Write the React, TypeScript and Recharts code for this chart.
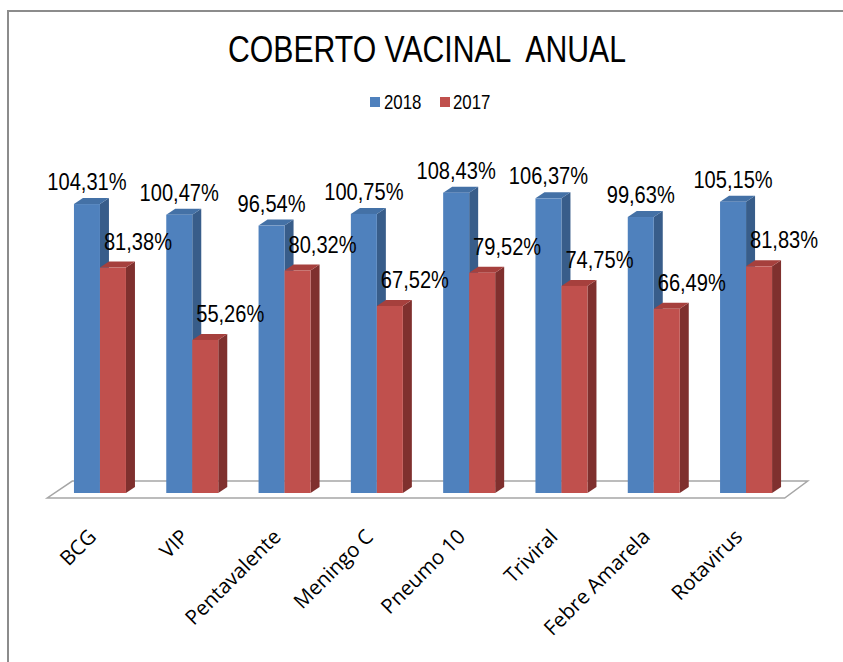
import { Bar, BarChart, LabelList, ReferenceArea, XAxis, YAxis } from 'recharts'

const categories = ['BCG', 'VIP', 'Pentavalente', 'Meningo C', 'Pneumo 10', 'Triviral', 'Febre Amarela', 'Rotavirus']
const cov2018 = [104.31, 100.47, 96.54, 100.75, 108.43, 106.37, 99.63, 105.15]
const cov2017 = [81.38, 55.26, 80.32, 67.52, 79.52, 74.75, 66.49, 81.83]
const seriesNames = ['2018', '2017']

const data = categories.map((name, i) => ({ name, y2018: cov2018[i], y2017: cov2017[i] }))

// no narrow font installed, so Liberation Sans gets squeezed horizontally
const FONT = "'Liberation Sans', Arial, sans-serif"
const SQUEEZE = 0.82
const DX = 9
const DY = 6

const fmt = (v: number) => `${v.toFixed(2).replace('.', ',')}%`

function bar3d(front: string, side: string, top: string) {
  return (props: any) => {
    const { x, y, width, height } = props
    if (!height) return <g />
    const r = x + width
    const b = y + height
    return (
      <g>
        <polygon points={`${r},${y} ${r + DX},${y - DY} ${r + DX},${b - DY} ${r},${b}`} fill={side} />
        <polygon points={`${x},${y} ${x + DX},${y - DY} ${r + DX},${y - DY} ${r},${y}`} fill={top} />
        <rect x={x} y={y} width={width} height={height} fill={front} />
      </g>
    )
  }
}

function floorShape(props: any) {
  const { x, y, width, height } = props
  const b = y + height
  const r = x + width
  return (
    <polygon
      points={`${x - 7},${b} ${r - 8},${b} ${r + 15},${y} ${x + 18},${y}`}
      fill="#ffffff"
      stroke="#a6a6a6"
      strokeWidth={1.5}
    />
  )
}

function CategoryTick(props: any) {
  const { x, y, payload } = props
  const tx = x - 3
  const ty = y + 45
  return (
    <text
      x={tx}
      y={ty}
      transform={`rotate(-45 ${tx} ${ty})`}
      textAnchor="end"
      fontFamily="'Open Sans', sans-serif"
      fontSize={20.5}
      fill="#000"
    >
      {payload.value}
    </text>
  )
}

function ValueText({ cx, base, value }: { cx: number; base: number; value: number }) {
  return (
    <text
      transform={`translate(${cx} ${base}) scale(${SQUEEZE} 1)`}
      x={0}
      y={0}
      textAnchor="middle"
      fontFamily={FONT}
      fontSize={24.5}
      fill="#000"
    >
      {fmt(value)}
    </text>
  )
}

const label2018 = (p: any) => <ValueText cx={p.x + p.width / 2} base={p.y - 14} value={Number(p.value)} />
const label2017 = (p: any) => <ValueText cx={p.x + p.width / 2 + 25} base={p.y - 18} value={Number(p.value)} />

const squeezed = {
  position: 'absolute' as const,
  whiteSpace: 'pre' as const,
  fontFamily: FONT,
  color: '#000',
  transformOrigin: 'left top',
  transform: `scaleX(${SQUEEZE})`,
}

export default function App() {
  return (
    <div style={{ position: 'absolute', left: 0, top: 0, width: 843, height: 662, overflow: 'hidden', background: '#fff' }}>
      <div
        style={{
          position: 'absolute',
          left: 7,
          top: 10,
          width: 900,
          height: 700,
          border: '2px solid #8c8c8c',
        }}
      />
      <div style={{ ...squeezed, left: 228, top: 32, fontSize: 36.8, lineHeight: '36px' }}>COBERTO VACINAL  ANUAL</div>

      <div style={{ position: 'absolute', left: 370, top: 97, width: 10, height: 10, background: '#4f81bd' }} />
      <div style={{ ...squeezed, left: 384, top: 92, fontSize: 20.5, lineHeight: '20px' }}>{seriesNames[0]}</div>
      <div style={{ position: 'absolute', left: 440, top: 97, width: 10, height: 10, background: '#c0504d' }} />
      <div style={{ ...squeezed, left: 453, top: 92, fontSize: 20.5, lineHeight: '20px' }}>{seriesNames[1]}</div>

      <div style={{ position: 'absolute', left: 0, top: 0 }}>
        <BarChart
          width={843}
          height={662}
          data={data}
          margin={{ top: 160.6, right: 50.3, left: 54.3, bottom: 0 }}
          barCategoryGap="21.3%"
          barGap={0}
        >
          <XAxis
            dataKey="name"
            height={169}
            axisLine={false}
            tickLine={false}
            tickSize={0}
            tickMargin={0}
            interval={0}
            tick={<CategoryTick />}
          />
          <YAxis hide domain={[0, 120]} />
          <ReferenceArea y1={-1.8} y2={4.3} ifOverflow="visible" shape={floorShape} />
          <Bar dataKey="y2018" name={seriesNames[0]} isAnimationActive={false} shape={bar3d('#4f81bd', '#385d8a', '#4471a6')}>
            <LabelList dataKey="y2018" content={label2018} />
          </Bar>
          <Bar dataKey="y2017" name={seriesNames[1]} isAnimationActive={false} shape={bar3d('#c0504d', '#7f302e', '#a6403d')}>
            <LabelList dataKey="y2017" content={label2017} />
          </Bar>
        </BarChart>
      </div>
    </div>
  )
}
